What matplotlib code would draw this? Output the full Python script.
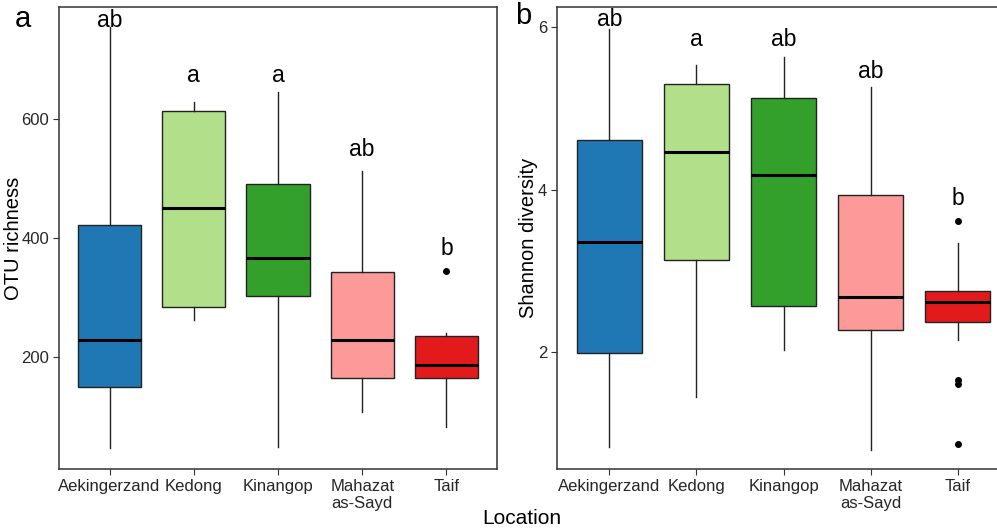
import matplotlib
matplotlib.use("Agg")
import matplotlib.pyplot as plt

plt.rcParams['font.family'] = ['Liberation Sans', 'DejaVu Sans']

locations = ["Aekingerzand", "Kedong", "Kinangop", "Mahazat\nas-Sayd", "Taif"]
colors = ["#1f78b4", "#b2df8a", "#33a02c", "#fb9a99", "#e31a1c"]

# OTU richness box stats
otu_lo = [47, 262, 49, 108, 82]
otu_q1 = [150, 284, 302, 165, 165]
otu_med = [229, 450, 366, 229, 186]
otu_q3 = [422, 613, 491, 343, 235]
otu_hi = [755, 629, 645, 513, 240]
otu_out = [[], [], [], [], [345]]
otu_letters = ["ab", "a", "a", "ab", "b"]
otu_letter_y = [755, 662, 662, 538, 371]

# Shannon diversity box stats
sh_lo = [0.83, 1.45, 2.02, 0.79, 2.15]
sh_q1 = [1.99, 3.14, 2.57, 2.27, 2.37]
sh_med = [3.35, 4.46, 4.18, 2.68, 2.62]
sh_q3 = [4.61, 5.30, 5.13, 3.93, 2.75]
sh_hi = [5.98, 5.53, 5.63, 5.26, 3.34]
sh_out = [[], [], [], [], [3.62, 1.66, 1.61, 0.87]]
sh_letters = ["ab", "a", "ab", "ab", "b"]
sh_letter_y = [6.01, 5.77, 5.77, 5.38, 3.81]


def panel(ax, lo, q1, med, q3, hi, out, letters, ly, ylim, yticks, ylabel, labx):
    stats = []
    for i in range(len(locations)):
        stats.append(dict(whislo=lo[i], q1=q1[i], med=med[i], q3=q3[i],
                          whishi=hi[i], fliers=out[i]))
    pos = list(range(1, len(locations) + 1))
    b = ax.bxp(stats, positions=pos, widths=0.75, patch_artist=True,
               showcaps=False,
               boxprops=dict(edgecolor="#222222", linewidth=1.0),
               whiskerprops=dict(color="#222222", linewidth=1.0),
               medianprops=dict(color="black", linewidth=2.2),
               flierprops=dict(marker="o", markerfacecolor="black",
                               markeredgecolor="black", markersize=4))
    for p, c in zip(b["boxes"], colors):
        p.set_facecolor(c)
    for x, t, y in zip(pos, letters, ly):
        ax.text(x, y, t, ha="center", va="baseline", fontsize=16.5, color="black")
    ax.set_xlim(0.4, 5.6)
    ax.set_ylim(*ylim)
    ax.set_yticks(yticks)
    ax.set_xticks(pos)
    ax.set_xticklabels(locations)
    ax.tick_params(labelsize=12, labelcolor="#262626", color="#333333",
                   length=4, width=0.8, pad=3)
    for s in ax.spines.values():
        s.set_color("#333333")
        s.set_linewidth(1.1)
    ax.set_ylabel(ylabel, fontsize=14.5, va="center")
    ax.yaxis.set_label_coords(labx, 0.5)


fig = plt.figure(figsize=(9.97, 5.31), dpi=100)
ax1 = fig.add_axes([59 / 997, 62 / 531, 438 / 997, 462 / 531])
ax2 = fig.add_axes([557 / 997, 62 / 531, 453 / 997, 462 / 531])

panel(ax1, otu_lo, otu_q1, otu_med, otu_q3, otu_hi, otu_out, otu_letters,
      otu_letter_y, (11.8, 788), [200, 400, 600], "OTU richness", -0.104)
panel(ax2, sh_lo, sh_q1, sh_med, sh_q3, sh_hi, sh_out, sh_letters,
      sh_letter_y, (0.56, 6.25), [2, 4, 6], "Shannon diversity", -0.062)

fig.text(23 / 997, 1 - 19 / 531, "a", fontsize=21, ha="center", va="center")
fig.text(523 / 997, 1 - 16 / 531, "b", fontsize=21, ha="center", va="center")
fig.text(522 / 997, 1 - 519 / 531, "Location", fontsize=15, ha="center", va="center")

fig.savefig("out.png", dpi=100)
